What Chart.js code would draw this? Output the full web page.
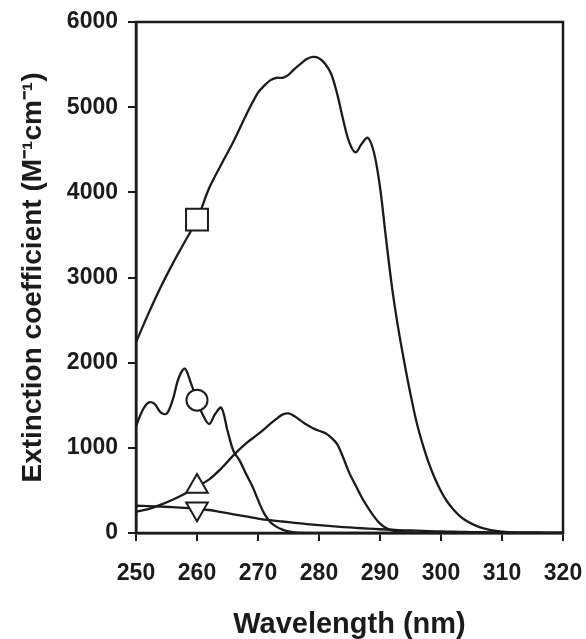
<!DOCTYPE html>
<html>
<head>
<meta charset="utf-8">
<script src="https://cdn.jsdelivr.net/npm/chart.js@4/dist/chart.umd.min.js"></script>
<style>
  html, body { margin: 0; padding: 0; background: #ffffff; }
  #wrap { width: 586px; height: 639px; position: relative; }
</style>
</head>
<body>
<div id="wrap"><canvas id="c" width="586" height="639"></canvas></div>
<script>
// ---- data ----
const xTicks = [250, 260, 270, 280, 290, 300, 310, 320];
const yTicks = [0, 1000, 2000, 3000, 4000, 5000, 6000];
const markerWavelength = 260;

// square series
const squareX = [250,252,254,256,258,260,262,264,266,268,270,271,272,273,274,275,276,277,278,279,280,281,282,283,284,285,286,287,288,289,290,291,292,293,294,295,296,297,298,299,300,301,302,303,304,305,306,307,308,309,310,312,315,320];
const squareY = [2240,2570,2880,3160,3420,3680,4050,4330,4600,4900,5170,5250,5315,5345,5345,5380,5450,5510,5565,5590,5575,5510,5390,5150,4840,4580,4470,4570,4640,4470,4060,3450,2870,2400,2000,1630,1300,1040,820,640,490,370,280,205,150,110,78,55,38,26,17,8,3,0];

// circle series
const circleX = [250,251,252,253,254,255,256,257,258,259,260,261,262,263,264,265,266,267,268,269,270,271,272,273,274,275,276,278,280,290,300,310,320];
const circleY = [1250,1430,1530,1520,1420,1400,1560,1820,1930,1760,1560,1380,1280,1400,1470,1200,960,850,700,560,390,230,130,75,40,18,8,2,0,0,0,0,0];

// up-triangle series
const triUpX = [250,252,254,256,258,260,262,264,266,268,270,272,273,274,275,276,277,278,279,280,281,282,283,284,285,286,287,288,289,290,291,292,293,295,300,310,320];
const triUpY = [250,280,330,390,460,545,630,760,915,1050,1160,1280,1340,1390,1405,1370,1320,1270,1230,1200,1175,1120,1040,880,700,560,420,300,195,110,60,30,15,5,0,0,0];

// down-triangle series
const triDownX = [250,252,254,256,258,260,262,264,266,268,270,272,274,276,278,280,282,284,286,288,290,292,294,296,298,300,302,304,306,308,310,312,314,316,318,320];
const triDownY = [320,315,310,305,295,285,270,245,220,195,170,150,135,120,105,92,80,70,60,52,44,38,32,27,22,18,15,12,10,8,6,5,4,3,2,1];

const xTitle = 'Wavelength (nm)';
const yTitle = 'Extinction coefficient (M\u207B\u00B9cm\u207B\u00B9)';

// ---- chart ----
const FONT = '"Liberation Sans", Arial, sans-serif';
const INK = '#1b1b1b';

function pts(xs, ys) { return xs.map((x, i) => ({ x: x, y: ys[i] })); }
function markerOnly(r) {
  return ctx => (ctx.raw && ctx.raw.x === markerWavelength) ? r : 0;
}
function makeSet(xs, ys, style, r, rot) {
  return {
    data: pts(xs, ys),
    borderColor: INK,
    borderWidth: 2.3,
    tension: 0.35,
    fill: false,
    pointStyle: style,
    pointRadius: markerOnly(r),
    pointHoverRadius: markerOnly(r),
    pointHitRadius: 0,
    pointRotation: rot || 0,
    pointBackgroundColor: '#ffffff',
    pointBorderColor: INK,
    pointBorderWidth: 2
  };
}

const frame = {
  id: 'frame',
  afterDatasetsDraw(chart) {
    const a = chart.chartArea, c = chart.ctx;
    c.save();
    c.strokeStyle = INK;
    c.lineWidth = 2.5;
    c.strokeRect(a.left, a.top, a.right - a.left, a.bottom - a.top);
    c.restore();
  }
};

new Chart(document.getElementById('c'), {
  type: 'line',
  data: {
    datasets: [
      makeSet(triDownX, triDownY, 'triangle', 12.5, 180),
      makeSet(triUpX, triUpY, 'triangle', 12.5, 0),
      makeSet(circleX, circleY, 'circle', 10.5, 0),
      makeSet(squareX, squareY, 'rect', 15.5, 0)
    ]
  },
  options: {
    responsive: false,
    animation: false,
    events: [],
    layout: { padding: { top: 22, right: 23, left: 0, bottom: 0 } },
    plugins: { legend: { display: false }, tooltip: { enabled: false } },
    scales: {
      x: {
        type: 'linear',
        min: 250, max: 320,
        afterBuildTicks: s => { s.ticks = xTicks.map(v => ({ value: v })); },
        afterFit: s => { s.height = 106; s.paddingLeft = 0; s.paddingRight = 0; },
        ticks: { color: INK, font: { family: FONT, size: 23, weight: 'bold' }, padding: 19, maxRotation: 0, autoSkip: false,
                 callback: v => String(v) },
        grid: { drawOnChartArea: false, drawTicks: true, tickLength: 8, color: INK, lineWidth: 2 },
        border: { display: true, color: INK, width: 2.5 },
        title: { display: true, text: xTitle, color: INK, font: { family: FONT, size: 29, weight: 'bold', lineHeight: 1.0 }, padding: { top: 0, bottom: 0 } }
      },
      y: {
        type: 'linear',
        min: 0, max: 6000,
        afterBuildTicks: s => { s.ticks = yTicks.map(v => ({ value: v })); },
        afterFit: s => { s.width = 136; s.paddingTop = 0; s.paddingBottom = 0; },
        ticks: { color: INK, font: { family: FONT, size: 23, weight: 'bold' }, padding: 10, autoSkip: false,
                 callback: v => String(v) },
        grid: { drawOnChartArea: false, drawTicks: true, tickLength: 8, color: INK, lineWidth: 2 },
        border: { display: true, color: INK, width: 2.5 },
        title: { display: true, text: yTitle, color: INK, font: { family: FONT, size: 28, weight: 'bold' }, padding: { top: 16, bottom: 0 } }
      }
    }
  },
  plugins: [frame]
});
</script>
</body>
</html>
